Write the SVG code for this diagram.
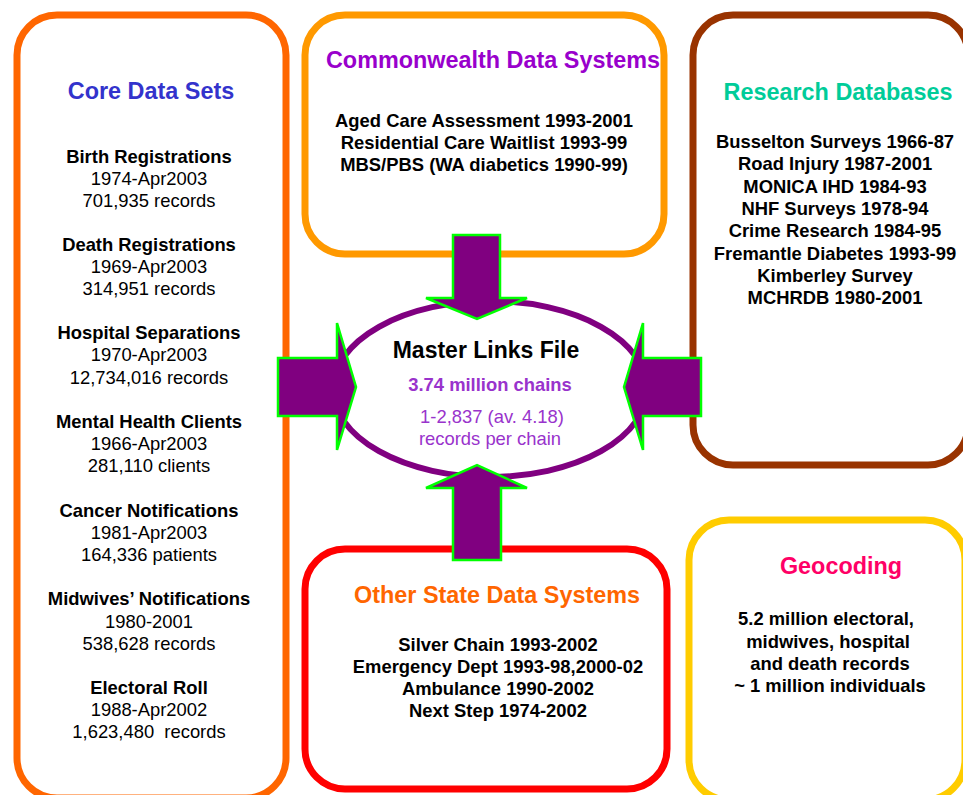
<svg xmlns="http://www.w3.org/2000/svg" width="963" height="795" viewBox="0 0 963 795">
<style>
.box{fill:#fff;stroke-width:7}
.t{font-family:"Liberation Sans",Arial,sans-serif;text-anchor:middle}
.h{font-size:23.4px;font-weight:bold}
.b{font-size:18.4px;font-weight:bold;fill:#000}
.r{font-size:18.4px;fill:#000}
.arrow{fill:#800080;stroke:#00FF00;stroke-width:2.5}
</style>
<rect width="963" height="795" fill="#fff"/>
<g id="core">
<rect class="box" x="17" y="15" width="269" height="783" rx="40" stroke="#FF6600"/>
<text class="t h" x="151" y="99" fill="#3333CC">Core Data Sets</text>
<text class="t b" x="149" y="163">Birth Registrations</text>
<text class="t r" x="149" y="185">1974-Apr2003</text>
<text class="t r" x="149" y="207">701,935 records</text>
<text class="t b" x="149" y="251">Death Registrations</text>
<text class="t r" x="149" y="273">1969-Apr2003</text>
<text class="t r" x="149" y="295">314,951 records</text>
<text class="t b" x="149" y="339">Hospital Separations</text>
<text class="t r" x="149" y="361">1970-Apr2003</text>
<text class="t r" x="149" y="384">12,734,016 records</text>
<text class="t b" x="149" y="428">Mental Health Clients</text>
<text class="t r" x="149" y="450">1966-Apr2003</text>
<text class="t r" x="149" y="472">281,110 clients</text>
<text class="t b" x="149" y="517">Cancer Notifications</text>
<text class="t r" x="149" y="539">1981-Apr2003</text>
<text class="t r" x="149" y="561">164,336 patients</text>
<text class="t b" x="149" y="605">Midwives’ Notifications</text>
<text class="t r" x="149" y="628">1980-2001</text>
<text class="t r" x="149" y="650">538,628 records</text>
<text class="t b" x="149" y="694">Electoral Roll</text>
<text class="t r" x="149" y="716">1988-Apr2002</text>
<text class="t r" x="149" y="738" xml:space="preserve">1,623,480  records</text>
</g>
<g id="commonwealth">
<rect class="box" x="305" y="15" width="359" height="239" rx="40" stroke="#FF9900"/>
<text class="t h" x="493" y="68" fill="#9900CC">Commonwealth Data Systems</text>
<text class="t b" x="484" y="127">Aged Care Assessment 1993-2001</text>
<text class="t b" x="484" y="149">Residential Care Waitlist 1993-99</text>
<text class="t b" x="484" y="171">MBS/PBS (WA diabetics 1990-99)</text>
</g>
<g id="research">
<rect class="box" x="693" y="15" width="275" height="450" rx="40" stroke="#993300"/>
<text class="t h" x="838" y="100" fill="#00CC99">Research Databases</text>
<text class="t b" x="835" y="148">Busselton Surveys 1966-87</text>
<text class="t b" x="835" y="170">Road Injury 1987-2001</text>
<text class="t b" x="835" y="193">MONICA IHD 1984-93</text>
<text class="t b" x="835" y="215">NHF Surveys 1978-94</text>
<text class="t b" x="835" y="237">Crime Research 1984-95</text>
<text class="t b" x="835" y="260">Fremantle Diabetes 1993-99</text>
<text class="t b" x="835" y="282">Kimberley Survey</text>
<text class="t b" x="835" y="304">MCHRDB 1980-2001</text>
</g>
<g id="geocoding">
<rect class="box" x="689" y="520" width="276" height="280" rx="40" stroke="#FFCC00"/>
<text class="t h" x="841" y="574" fill="#FF0066">Geocoding</text>
<text class="t b" x="826" y="625">5.2 million electoral,</text>
<text class="t b" x="828" y="648">midwives, hospital</text>
<text class="t b" x="830" y="670">and death records</text>
<text class="t b" x="830" y="692">~ 1 million individuals</text>
</g>
<g id="otherstate">
<rect class="box" x="305" y="549" width="362" height="240" rx="40" stroke="#FF0000"/>
<text class="t h" x="497" y="603" fill="#FF6600">Other State Data Systems</text>
<text class="t b" x="498" y="651">Silver Chain 1993-2002</text>
<text class="t b" x="498" y="673">Emergency Dept 1993-98,2000-02</text>
<text class="t b" x="498" y="695">Ambulance 1990-2002</text>
<text class="t b" x="498" y="717">Next Step 1974-2002</text>
</g>
<g id="master">
<ellipse cx="490" cy="389" rx="157" ry="88" fill="#fff" stroke="#800080" stroke-width="6"/>
<text class="t" x="486" y="358" font-size="23" font-weight="bold" fill="#000">Master Links File</text>
<text class="t" x="490" y="391" font-size="18.4" font-weight="bold" fill="#9933CC">3.74 million chains</text>
<text class="t" x="492" y="423" font-size="18.4" fill="#9933CC">1-2,837 (av. 4.18)</text>
<text class="t" x="490" y="445" font-size="18.4" fill="#9933CC">records per chain</text>
</g>
<g id="connectors">
<polygon class="arrow" points="453,235 500,235 500,298 527,298 477,319 426,298 453,298"/>
<polygon class="arrow" points="453,560 501,560 501,488 527,488 477,465 426,488 453,488"/>
<polygon class="arrow" points="278,358 337,358 337,323 356,387 337,450 337,416 278,416"/>
<polygon class="arrow" points="701,358 643,358 643,323 624,387 643,450 643,416 701,416"/>
</g>
</svg>
